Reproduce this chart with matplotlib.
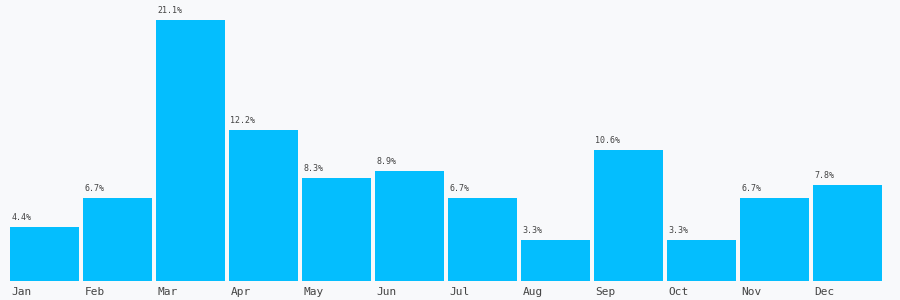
import matplotlib
matplotlib.use("Agg")
import numpy as np
import matplotlib.pyplot as plt

months = ["Jan", "Feb", "Mar", "Apr", "May", "Jun",
          "Jul", "Aug", "Sep", "Oct", "Nov", "Dec"]
shares = [4.4, 6.7, 21.1, 12.2, 8.3, 8.9, 6.7, 3.3, 10.6, 3.3, 6.7, 7.8]

bg = "#f8f9fb"
fig = plt.figure(figsize=(9, 3), dpi=100, facecolor=bg)
ax = fig.add_axes([10 / 900, 19 / 300, 876 / 900, 281 / 300])
ax.set_facecolor(bg)

x = np.arange(len(months))
ax.bar(x, shares, width=69 / 73, align="edge", color="#04befe")

for i, v in enumerate(shares):
    ax.annotate("%.1f%%" % v, (i, v), xytext=(1, 3.5), textcoords="offset points",
                ha="left", va="bottom", fontsize=6, family="DejaVu Sans Mono",
                color="#444444")
    ax.annotate(months[i], (i, 0), xytext=(1, -4), textcoords="offset points",
                ha="left", va="top", fontsize=8, family="DejaVu Sans Mono",
                color="#444444", annotation_clip=False)

ax.set_xlim(0, 12)
ax.set_ylim(0, 281 / 12.37)
ax.set_xticks([])
ax.set_yticks([])
for s in ax.spines.values():
    s.set_visible(False)

fig.savefig("out.png", dpi=100, facecolor=bg)
